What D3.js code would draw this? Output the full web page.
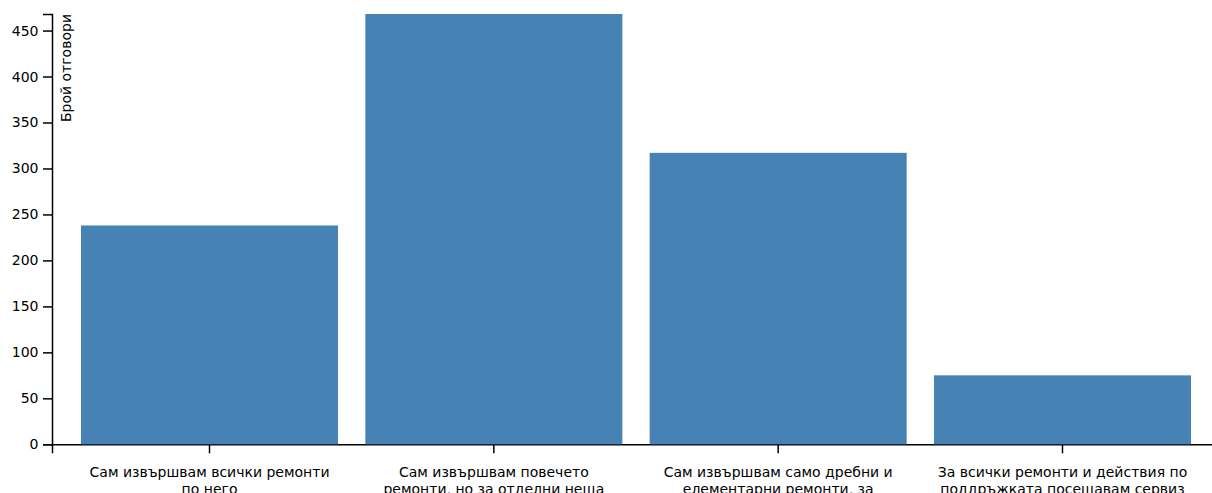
<!DOCTYPE html>
<html>
<head>
<meta charset="utf-8">
<script src="https://d3js.org/d3.v7.min.js"></script>
<style>
  html, body { margin: 0; padding: 0; background: #fff; overflow: hidden; }
  svg { display: block; }
  text { font-family: "DejaVu Sans", sans-serif; }
</style>
</head>
<body>
<script>
// ---- data ----
const categories = [
  "Сам извършвам всички ремонти\nпо него",
  "Сам извършвам повечето\nремонти, но за отделни неща\nползвам сервиз",
  "Сам извършвам само дребни и\nелементарни ремонти, за\nостаналото ползвам сервиз",
  "За всички ремонти и действия по\nподдръжката посещавам сервиз"
];
const values = [238, 468, 317, 75];
const yTicks = [0, 50, 100, 150, 200, 250, 300, 350, 400, 450];
const yLabel = "Брой отговори";

// ---- layout ----
const W = 1212, H = 493;
const mLeft = 52, mTop = 14, mBottom = 444.3, mRight = 1220;
const FONT = "'DejaVu Sans', sans-serif";
const FS = 14;

const svg = d3.select("body").append("svg")
  .attr("width", W).attr("height", H);

const x = d3.scaleBand()
  .domain(categories)
  .range([mLeft, mRight])
  .paddingInner(0.096)
  .paddingOuter(0.102);

const y = d3.scaleLinear()
  .domain([0, d3.max(values)])
  .range([mBottom, mTop]);

// x axis
const gx = svg.append("g")
  .attr("transform", `translate(0,${mBottom})`)
  .call(d3.axisBottom(x).tickSize(9).tickPadding(4.5).tickFormat(() => ""));
gx.select(".domain").attr("stroke", "#000").attr("stroke-width", 1.5);
gx.selectAll(".tick line").attr("stroke", "#000").attr("stroke-width", 1.5);

gx.selectAll(".tick").each(function(d) {
  const t = d3.select(this).append("text")
    .attr("fill", "#000")
    .attr("text-anchor", "middle")
    .attr("font-family", FONT)
    .attr("font-size", FS)
    .attr("y", 33.2);
  d.split("\n").forEach((line, i) => {
    t.append("tspan").attr("x", 0).attr("dy", i === 0 ? 0 : "1.2em").text(line);
  });
});

// y axis
const gy = svg.append("g")
  .attr("transform", `translate(${mLeft},0)`)
  .call(d3.axisLeft(y).tickValues(yTicks).tickSize(9).tickPadding(4.5));
gy.select(".domain").attr("stroke", "#000").attr("stroke-width", 1.5);
gy.selectAll(".tick line").attr("stroke", "#000").attr("stroke-width", 1.5);
gy.selectAll(".tick text").attr("font-size", FS).attr("fill", "#000")
  .attr("font-family", FONT);

gy.append("text")
  .attr("transform", `translate(0,${mTop}) rotate(-90)`)
  .attr("y", 9)
  .attr("dy", "0.71em")
  .attr("text-anchor", "end")
  .attr("fill", "#000")
  .attr("font-family", FONT)
  .attr("font-size", FS)
  .text(yLabel);

// bars
svg.append("g").selectAll("rect")
  .data(values)
  .join("rect")
  .attr("x", (d, i) => x(categories[i]))
  .attr("width", x.bandwidth())
  .attr("y", d => y(d))
  .attr("height", d => mBottom - y(d))
  .attr("fill", "steelblue");
</script>
</body>
</html>
